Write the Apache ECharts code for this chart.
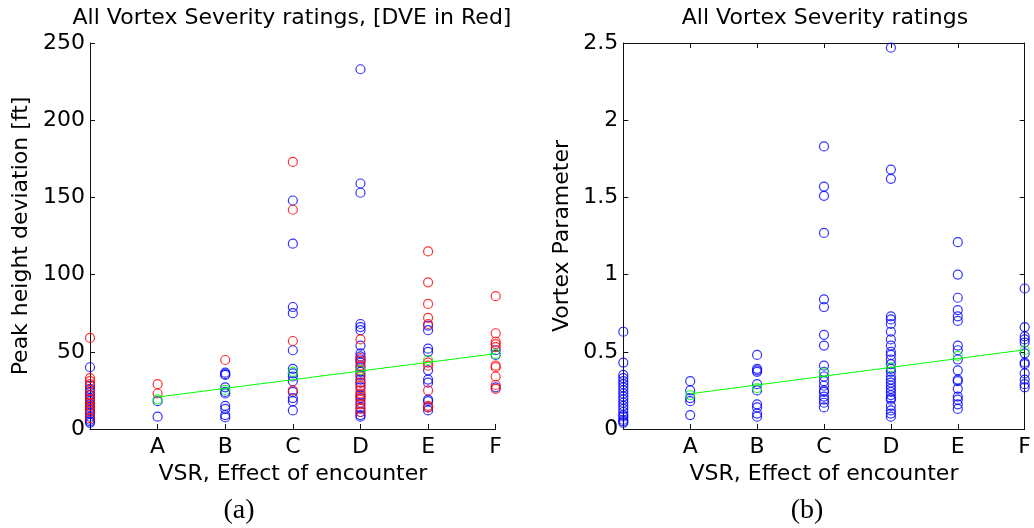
<!DOCTYPE html>
<html>
<head>
<meta charset="utf-8">
<script src="https://cdn.jsdelivr.net/npm/echarts@6/dist/echarts.min.js"></script>
<style>
html,body{margin:0;padding:0;background:#fff;}
#chart{width:1034px;height:528px;}
</style>
</head>
<body>
<div id="chart"></div>
<script>
// ---- categories / ticks ----
const categories = ['', 'A', 'B', 'C', 'D', 'E', 'F'];
const peakTicks = [0, 50, 100, 150, 200, 250];
const vortexTicks = [0, 0.5, 1, 1.5, 2, 2.5];

// ---- Panel (a): Peak height deviation [ft], per category (index 0..6) ----
const peakBlue = [
  [40, 28, 26, 24, 22, 20, 18, 16, 14, 12, 10, 8, 6, 5, 4],
  [18, 8],
  [36.5, 35.5, 35, 27, 24, 23, 15, 13, 9, 7.5],
  [148, 120, 79, 75, 51, 39, 36, 34, 31, 24, 20, 18, 12],
  [233, 159, 153, 68, 66, 64, 54, 49, 47, 45, 43, 40, 37, 35, 32, 30, 27, 22, 20, 17, 14, 11, 9, 8],
  [67, 64, 52, 50, 38, 32, 30, 19, 18, 14, 12],
  [51, 48, 27]
];
const peakRed = [
  [59, 33, 31, 29, 25, 22, 19, 17, 15, 13, 11, 7],
  [29, 23],
  [44.7],
  [173, 142, 57, 25],
  [58, 46, 44, 41, 38, 34, 30, 28, 25, 23, 21, 19, 16, 13, 11],
  [115, 95, 81, 72, 68, 43, 41, 25, 15, 14],
  [86, 62, 56.5, 55, 53, 41, 40, 34, 28.5, 26]
];
const peakMeans = [null, 19.2, 25.3, 37, 38.2, 44.7, 48.6];
const peakTrendX = [1, 6];
const peakTrendY = [20.7, 48.8];

// ---- Panel (b): Vortex Parameter, per category ----
const vortexBlue = [
  [0.63, 0.43, 0.35, 0.33, 0.31, 0.29, 0.27, 0.25, 0.23, 0.21, 0.19, 0.17, 0.15, 0.13, 0.11, 0.09, 0.08, 0.06, 0.05, 0.04],
  [0.31, 0.25, 0.2, 0.18, 0.09],
  [0.48, 0.39, 0.38, 0.37, 0.29, 0.25, 0.16, 0.14, 0.1, 0.08],
  [1.83, 1.57, 1.51, 1.27, 0.84, 0.79, 0.61, 0.54, 0.41, 0.37, 0.34, 0.31, 0.28, 0.25, 0.24, 0.21, 0.19, 0.17, 0.14],
  [2.47, 1.68, 1.62, 0.73, 0.71, 0.68, 0.63, 0.58, 0.54, 0.5, 0.48, 0.45, 0.42, 0.39, 0.37, 0.34, 0.32, 0.3, 0.28, 0.26, 0.24, 0.22, 0.2, 0.19, 0.15, 0.12, 0.1, 0.08],
  [1.21, 1.0, 0.85, 0.77, 0.73, 0.7, 0.54, 0.51, 0.45, 0.38, 0.32, 0.31, 0.26, 0.21, 0.19, 0.16, 0.13],
  [0.91, 0.66, 0.6, 0.58, 0.56, 0.49, 0.43, 0.42, 0.36, 0.32, 0.29, 0.27]
];
const vortexMeans = [null, 0.22, 0.265, 0.366, 0.4, 0.474, 0.51];
const vortexTrendX = [1, 6];
const vortexTrendY = [0.228, 0.513];

// ---- titles / labels ----
const titleA = 'All Vortex Severity ratings, [DVE in Red]';
const titleB = 'All Vortex Severity ratings';
const xName = 'VSR, Effect of encounter';
const yNameA = 'Peak height deviation [ft]';
const yNameB = 'Vortex Parameter';

// ---- helpers ----
function toPoints(groups) {
  const out = [];
  groups.forEach((vals, i) => vals.forEach(v => out.push([i, v])));
  return out;
}
function meansToPoints(m) {
  const out = [];
  m.forEach((v, i) => { if (v !== null) out.push([i, v]); });
  return out;
}
function zip(xs, ys) { return xs.map((x, i) => [x, ys[i]]); }

const FONT = 'DejaVu Sans';
const AX = '#111';

function xAxisDef(gridIndex, withLabels, position) {
  return {
    gridIndex, type: 'value', min: 0, max: 6, interval: 1, position: position || 'bottom',
    axisLine: { show: true, onZero: false, lineStyle: { color: AX, width: 1 } },
    axisTick: { show: true, inside: true, length: 5, lineStyle: { color: AX } },
    axisLabel: withLabels ? {
      show: true, margin: 7, color: '#000', fontSize: 22, fontFamily: FONT,
      formatter: v => categories[Math.round(v)] || ''
    } : { show: false },
    splitLine: { show: false },
    name: withLabels ? xName : '', nameLocation: 'middle', nameGap: 34,
    nameTextStyle: { color: '#000', fontSize: 22, fontFamily: FONT }
  };
}
function yAxisDef(gridIndex, ticks, withLabels, name, nameGap, position) {
  return {
    gridIndex, type: 'value', min: ticks[0], max: ticks[ticks.length - 1],
    interval: ticks[1] - ticks[0], position: position || 'left',
    axisLine: { show: true, onZero: false, lineStyle: { color: AX, width: 1 } },
    axisTick: { show: true, inside: true, length: 5, lineStyle: { color: AX } },
    axisLabel: withLabels ? { show: true, margin: 5, color: '#000', fontSize: 22, fontFamily: FONT } : { show: false },
    splitLine: { show: false },
    name: name || '', nameLocation: 'middle', nameGap: nameGap || 0, nameRotate: 90,
    nameTextStyle: { color: '#000', fontSize: 22, fontFamily: FONT }
  };
}
function scatter(xi, yi, data, color) {
  return {
    type: 'scatter', xAxisIndex: xi, yAxisIndex: yi, data,
    symbol: 'circle', symbolSize: 9, silent: true,
    itemStyle: { color: 'rgba(0,0,0,0)', borderColor: color, borderWidth: 1.2 }
  };
}
function trend(xi, yi, data) {
  return {
    type: 'line', xAxisIndex: xi, yAxisIndex: yi, data, symbol: 'none', silent: true,
    lineStyle: { color: '#00ff00', width: 1 }
  };
}

const chart = echarts.init(document.getElementById('chart'), null, { renderer: 'canvas' });
chart.setOption({
  animation: false,
  backgroundColor: '#fff',
  grid: [
    { left: 90, top: 43, width: 405.7, height: 386 },
    { left: 623.3, top: 43, width: 405.7, height: 386 }
  ],
  xAxis: [
    xAxisDef(0, true),
    xAxisDef(1, true),
    xAxisDef(1, false, 'top')
  ],
  yAxis: [
    yAxisDef(0, peakTicks, true, yNameA, 58),
    yAxisDef(1, vortexTicks, true, yNameB, 50),
    yAxisDef(1, vortexTicks, false, '', 0, 'right')
  ],
  series: [
    scatter(0, 0, toPoints(peakBlue), '#0000ff'),
    scatter(0, 0, toPoints(peakRed), '#ff0000'),
    trend(0, 0, zip(peakTrendX, peakTrendY)),
    scatter(0, 0, meansToPoints(peakMeans), '#00ff00'),
    scatter(1, 1, toPoints(vortexBlue), '#0000ff'),
    trend(1, 1, zip(vortexTrendX, vortexTrendY)),
    scatter(1, 1, meansToPoints(vortexMeans), '#00ff00')
  ],
  graphic: [
    { type: 'text', x: 292, y: 18, style: { text: titleA, fontSize: 22, fontFamily: FONT, fill: '#000', textAlign: 'center', textVerticalAlign: 'middle' } },
    { type: 'text', x: 825, y: 18, style: { text: titleB, fontSize: 22, fontFamily: FONT, fill: '#000', textAlign: 'center', textVerticalAlign: 'middle' } },
    { type: 'text', x: 239, y: 511, style: { text: '(a)', fontSize: 28, fontFamily: 'Liberation Serif', fill: '#000', textAlign: 'center', textVerticalAlign: 'middle' } },
    { type: 'text', x: 807, y: 511, style: { text: '(b)', fontSize: 28, fontFamily: 'Liberation Serif', fill: '#000', textAlign: 'center', textVerticalAlign: 'middle' } }
  ]
});
</script>
</body>
</html>
